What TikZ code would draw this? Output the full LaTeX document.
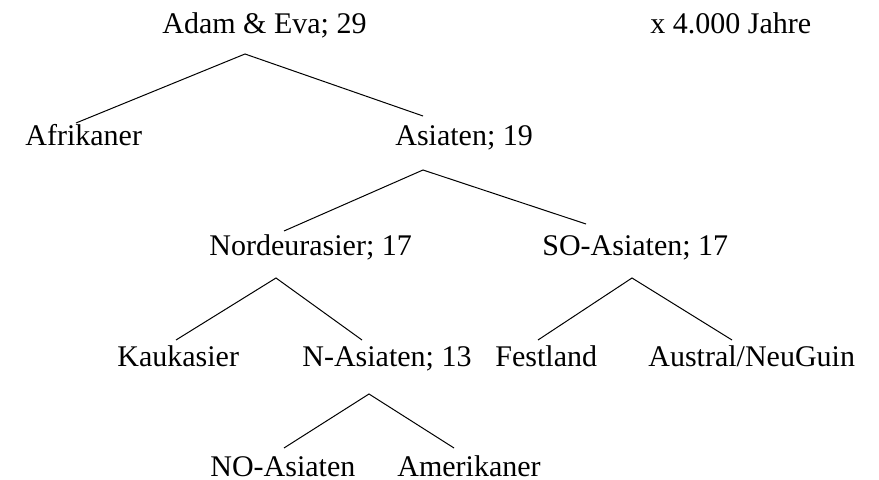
\documentclass[tikz,border=0pt]{standalone}
\usepackage{fontspec}
\setmainfont{Liberation Serif}
\usepackage{tikz}
\usetikzlibrary{positioning, calc}

\tikzset{
  lbl/.style={anchor=base west, inner sep=0pt, font=\fontsize{15}{18}\selectfont},
  branch/.style={line width=0.5pt, black}
}

\begin{document}
\begin{tikzpicture}[x=0.5pt, y=-0.5pt]
  \useasboundingbox (0,0) rectangle (879,480);

  % Labels
  \node[lbl] (adam) at (162,34) {Adam \& Eva; 29};
  \node[lbl] (scale) at (650,34) {x 4.000 Jahre};
  \node[lbl] (afrika) at (25,146) {Afrikaner};
  \node[lbl] (asien) at (395,146) {Asiaten; 19};
  \node[lbl] (nordeur) at (209,256) {Nordeurasier; 17};
  \node[lbl] (soasien) at (542,256) {SO-Asiaten; 17};
  \node[lbl] (kauk) at (117,367) {Kaukasier};
  \node[lbl] (nasien) at (302,367) {N-Asiaten; 13};
  \node[lbl] (fest) at (495,367) {Festland};
  \node[lbl] (austral) at (648,367) {Austral/NeuGuin};
  \node[lbl] (noasien) at (210,477) {NO-Asiaten};
  \node[lbl] (amerika) at (397,477) {Amerikaner};

  % Branch points
  \coordinate (adam-fork) at (245,54);
  \coordinate (asien-fork) at (423,170);
  \coordinate (nordeur-fork) at (276,278);
  \coordinate (soasien-fork) at (632,278);
  \coordinate (nasien-fork) at (369,394);

  % Branch ends
  \coordinate (afrika-top) at (76,123);
  \coordinate (asien-top) at (423,116);
  \coordinate (nordeur-top) at (284,231);
  \coordinate (soasien-top) at (586,224);
  \coordinate (kauk-top) at (176,340);
  \coordinate (nasien-top) at (362,340);
  \coordinate (fest-top) at (538,340);
  \coordinate (austral-top) at (732,340);
  \coordinate (noasien-top) at (284,448);
  \coordinate (amerika-top) at (454,448);

  % Draw tree
  \draw[branch] (afrika-top) -- (adam-fork) -- (asien-top);
  \draw[branch] (nordeur-top) -- (asien-fork) -- (soasien-top);
  \draw[branch] (kauk-top) -- (nordeur-fork) -- (nasien-top);
  \draw[branch] (fest-top) -- (soasien-fork) -- (austral-top);
  \draw[branch] (noasien-top) -- (nasien-fork) -- (amerika-top);
\end{tikzpicture}
\end{document}
